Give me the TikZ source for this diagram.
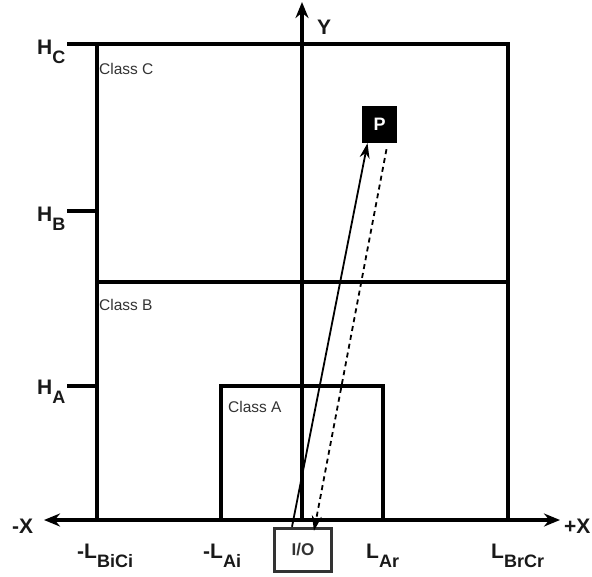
\documentclass[tikz,border=0pt]{standalone}
\usepackage{fontspec}
\setmainfont{Liberation Sans}
\usetikzlibrary{arrows.meta}
\newcommand\sbx[1]{\raisebox{-9pt}{\fontsize{18}{20}\selectfont #1}}
\begin{document}
\begin{tikzpicture}[x=1pt,y=-1pt,
 thickline/.style={line width=3.5pt},
 axisline/.style={line width=3.2pt},
 bigtip/.tip={Stealth[length=16pt,width=13pt]},
 lbl/.style={font=\fontsize{21}{24}\selectfont\bfseries, inner sep=0pt, text=black!90},
 cls/.style={font=\fontsize{15.5}{18}\selectfont, text=black!80, anchor=base west, inner sep=0pt},
 conn/.style={line width=1.8pt, -{Stealth[length=15pt,width=10pt]}},
]
\useasboundingbox (0,0) rectangle (592,576);
% coordinates
\coordinate (yb) at (302,520);
\coordinate (yt) at (302,2);
\coordinate (xl) at (44,520);
\coordinate (xr) at (560,520);
% class boxes
\draw[thickline] (97,520) -- (97,44) -- (508,44) -- (508,520);
\draw[thickline] (97,282) -- (508,282);
\draw[thickline] (221,520) -- (221,386) -- (383,386) -- (383,520);
% ticks
\draw[thickline] (67,44) -- (97,44);
\draw[thickline] (67,211) -- (97,211);
\draw[thickline] (67,386) -- (97,386);
% axes
\draw[axisline,-bigtip] (yb) -- (yt);
\draw[axisline,bigtip-bigtip] (xl) -- (xr);
% labels
\node[lbl, anchor=base west] (hc) at (37,54) {H\sbx{C}};
\node[lbl, anchor=base west] (hb) at (37,221) {H\sbx{B}};
\node[lbl, anchor=base west] (ha) at (37,394) {H\sbx{A}};
\node[lbl, anchor=base west] (ylab) at (317,34) {Y};
\node[lbl, anchor=base west] (mx) at (12,533) {-X};
\node[lbl, anchor=base west] (px) at (564,533) {+X};
\node[lbl, anchor=base west] (l1) at (77,558) {-L\sbx{BiCi}};
\node[lbl, anchor=base west] (l2) at (203,558) {-L\sbx{Ai}};
\node[lbl, anchor=base west] (l3) at (366,558) {L\sbx{Ar}};
\node[lbl, anchor=base west] (l4) at (491,558) {L\sbx{BrCr}};
\node[cls] (cc) at (99,74) {Class C};
\node[cls] (cb) at (99,310) {Class B};
\node[cls] (ca) at (228,412) {Class A};
% P and I/O
\node[fill=black, text=white, minimum width=35pt, minimum height=37pt, inner sep=0pt,
      font=\fontsize{18}{20}\selectfont\bfseries] (P) at (379.5,124.5) {P};
\node[draw=black!80, line width=3.5pt, minimum width=57pt, minimum height=43pt, inner sep=0pt,
      text=black!80, font=\fontsize{17}{20}\selectfont\bfseries] (IO) at (303,550) {I/O};
% connectors
\draw[conn] ([xshift=-11pt]IO.north) -- ([xshift=-12pt]P.south);
\draw[conn, dash pattern=on 5pt off 4pt] ([xshift=7pt,yshift=-6pt]P.south) -- ([xshift=11pt,yshift=-4pt]IO.north);
\end{tikzpicture}
\end{document}
